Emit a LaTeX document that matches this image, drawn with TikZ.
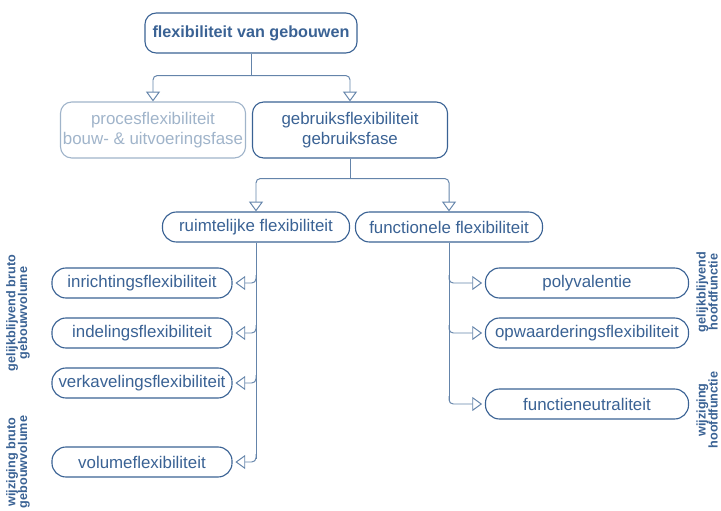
\documentclass[tikz,border=0pt]{standalone}
\usepackage{fontspec}
\setmainfont{Liberation Sans}
\usepackage{tikz}
\usetikzlibrary{arrows.meta, calc}

\definecolor{flexblue}{RGB}{58,98,148}
\definecolor{flexpale}{RGB}{160,180,202}
\definecolor{flexline}{RGB}{100,132,170}

\tikzset{
  box/.style={draw=flexblue, text=flexblue, line width=0.8pt, rounded corners=8pt,
    align=center, inner sep=1pt, font=\fontsize{12}{14}\selectfont},
  leaf/.style={box, minimum height=0.75cm, rounded corners=10pt},
  conn/.style={draw=flexline, line width=0.7pt, rounded corners=3pt},
  side/.style={text=flexblue, rotate=90, align=center, font=\bfseries\fontsize{9}{8.5}\selectfont}
}

\begin{document}
\begin{tikzpicture}[x=0.025cm, y=-0.025cm, >={Triangle[open, length=7pt, width=10pt]}]
  \clip (0,0) rectangle (721,511);
  % main levels
  \node (top) at (251,33) [box, minimum width=5.3cm, minimum height=1cm,
    font=\bfseries\fontsize{11.5}{14}\selectfont] {flexibiliteit van gebouwen};
  \node (pf) at (153,130) [box, draw=flexpale, text=flexpale, minimum width=4.625cm,
    minimum height=1.4cm] {procesflexibiliteit\\bouw- \& uitvoeringsfase};
  \node (gf) at (350,130) [box, minimum width=4.875cm, minimum height=1.4cm]
    {gebruiksflexibiliteit\\gebruiksfase};
  \node (rf) at (256,227) [leaf, minimum width=4.675cm] {ruimtelijke flexibiliteit};
  \node (ff) at (449,227) [leaf, minimum width=4.675cm] {functionele flexibiliteit};

  % left leaves
  \node (in) at (142,283) [leaf, minimum width=4.5cm] {inrichtingsflexibiliteit};
  \node (id) at (142,333) [leaf, minimum width=4.5cm] {indelingsflexibiliteit};
  \node (vk) at (142,383) [leaf, minimum width=4.5cm] {verkavelingsflexibiliteit};
  \node (vo) at (142,462) [leaf, minimum width=4.5cm] {volumeflexibiliteit};

  % right leaves
  \node (pv) at (587,283) [leaf, minimum width=5.075cm] {polyvalentie};
  \node (ow) at (587,333) [leaf, minimum width=5.075cm] {opwaarderingsflexibiliteit};
  \node (fn) at (587,404) [leaf, minimum width=5.075cm] {functieneutraliteit};

  % side texts
  \node (sl1) at (18,313) [side] {gelijkblijvend bruto\\gebouwvolume};
  \node (sl2) at (18,462) [side] {wijziging bruto\\gebouwvolume};
  \node (sr1) at (707,292) [side] {gelijkblijvend\\hoofdfunctie};
  \node (sr2) at (707,410) [side] {wijziging\\hoofdfunctie};

  % connectors
  \draw [conn] (top.south) -- ++(0,22) coordinate (t1);
  \draw [conn, ->] (t1) -| (pf.north);
  \draw [conn, ->] (t1) -| (gf.north);
  \draw [conn] (gf.south) -- ++(0,20) coordinate (t2);
  \draw [conn, ->] (t2) -| (rf.north);
  \draw [conn, ->] (t2) -| (ff.north);

  \draw [conn] (rf.south) -- ($(rf.south |- vo.east)+(0,-3)$);
  \foreach \leaf in {in, id, vk, vo}
    \draw [conn, ->, shorten >=2pt] ($(rf.south |- \leaf.east)+(0,-8)$) |- (\leaf.east);
  \draw [conn] (ff.south) -- ($(ff.south |- fn.west)+(0,-3)$);
  \foreach \leaf in {pv, ow, fn}
    \draw [conn, ->, shorten >=2pt] ($(ff.south |- \leaf.west)+(0,-8)$) |- (\leaf.west);
\end{tikzpicture}
\end{document}
